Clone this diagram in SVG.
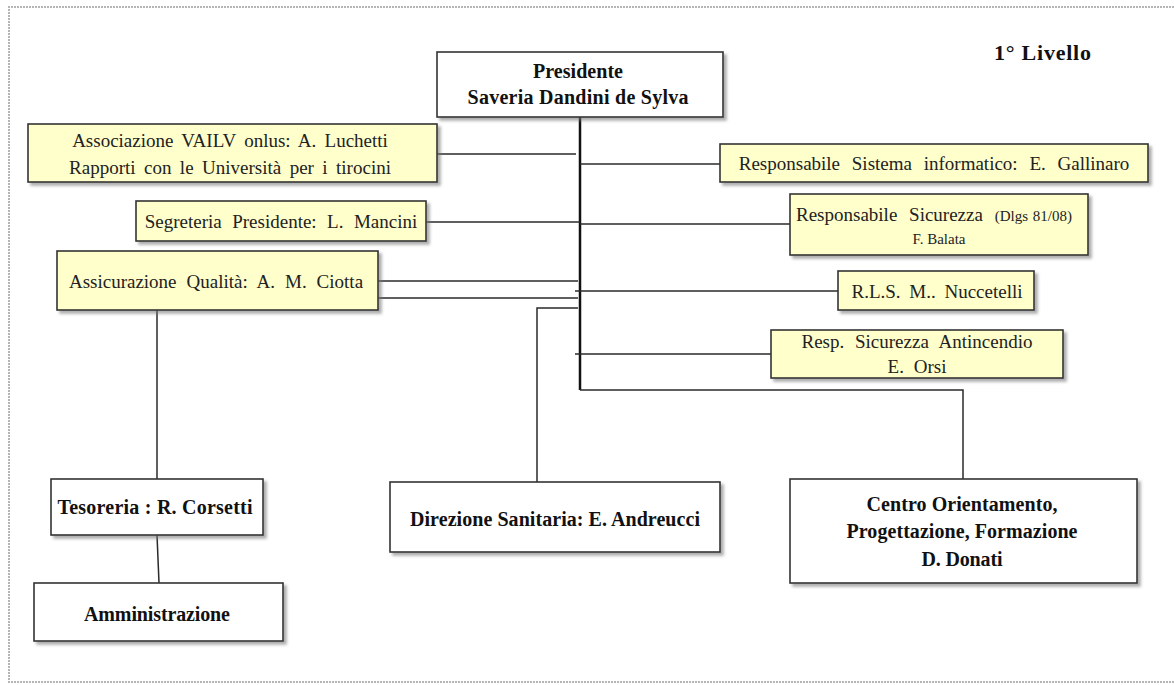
<svg xmlns="http://www.w3.org/2000/svg" width="1174" height="685" viewBox="0 0 1174 685">
<defs>
  <filter id="sh" x="-5%" y="-10%" width="115%" height="130%">
    <feDropShadow dx="3" dy="3" stdDeviation="1.5" flood-color="#777" flood-opacity="0.6"/>
  </filter>
</defs>
<style>
  .box { stroke: #333; stroke-width: 1.6; filter: url(#sh); }
  .y { fill: #FFFFCC; }
  .w { fill: #FFFFFF; }
  .t { font-family: "Liberation Serif", "Times New Roman", serif; font-size: 19px; fill: #222; }
  .b { font-family: "Liberation Serif", "Times New Roman", serif; font-size: 20px; font-weight: bold; fill: #111; }
  .s { font-size: 15px; }
  .c { text-anchor: middle; }
  .ln { stroke: #2a2a2a; stroke-width: 1.5; fill: none; }
  .trunk { stroke: #111; stroke-width: 2.5; fill: none; }
  .border { stroke: #b5b5b5; stroke-width: 2; stroke-dasharray: 2 1; fill: none; }
</style>
<rect width="1174" height="685" fill="#fff"/>
<path class="border" d="M1174,7 H9 V682 H1174"/>

<g id="connectors">
  <line class="trunk" x1="580" y1="117" x2="580" y2="390"/>
  <line class="ln" x1="437" y1="154" x2="576" y2="154"/>
  <line class="ln" x1="426" y1="222" x2="580" y2="222"/>
  <line class="ln" x1="378" y1="281" x2="578" y2="281"/>
  <line class="ln" x1="378" y1="298" x2="578" y2="298"/>
  <polyline class="ln" points="578,308 537,308 537,482"/>
  <line class="ln" x1="580" y1="164" x2="720" y2="164"/>
  <line class="ln" x1="580" y1="224" x2="790" y2="224"/>
  <line class="ln" x1="575" y1="291" x2="838" y2="291"/>
  <line class="ln" x1="575" y1="354" x2="771" y2="354"/>
  <polyline class="ln" points="580,390 963,390 963,479"/>
  <line class="ln" x1="157" y1="310" x2="157" y2="479"/>
  <line class="ln" x1="157" y1="535" x2="159" y2="583"/>
</g>

<g id="livello">
  <text class="b" x="994" y="60" style="font-size:22px" textLength="97" lengthAdjust="spacing">1° Livello</text>
</g>

<g id="presidente">
  <rect class="box w" x="437" y="52" width="286" height="65"/>
  <text class="b c" x="578" y="78" textLength="90" lengthAdjust="spacing">Presidente</text>
  <text class="b c" x="578" y="104" textLength="221" lengthAdjust="spacing">Saveria Dandini de Sylva</text>
</g>

<g id="associazione">
  <rect class="box y" x="28" y="124" width="409" height="58"/>
  <text class="t c" x="230" y="147" word-spacing="3.5">Associazione VAILV onlus: A. Luchetti</text>
  <text class="t c" x="230" y="174" word-spacing="3.7">Rapporti con le Università per i tirocini</text>
</g>

<g id="segreteria">
  <rect class="box y" x="136" y="201" width="290" height="40"/>
  <text class="t c" x="281" y="228" word-spacing="5.7">Segreteria Presidente: L. Mancini</text>
</g>

<g id="assicurazione">
  <rect class="box y" x="57" y="251" width="321" height="59"/>
  <text class="t c" x="216" y="288" word-spacing="5.2">Assicurazione Qualità: A. M. Ciotta</text>
</g>

<g id="sistema">
  <rect class="box y" x="720" y="144" width="428" height="38"/>
  <text class="t c" x="934" y="170" word-spacing="7">Responsabile Sistema informatico: E. Gallinaro</text>
</g>

<g id="sicurezza">
  <rect class="box y" x="790" y="194" width="298" height="61"/>
  <text class="t" x="796" y="221" word-spacing="7">Responsabile Sicurezza <tspan class="s" word-spacing="1">(Dlgs 81/08)</tspan></text>
  <text class="t c s" x="939" y="244">F. Balata</text>
</g>

<g id="rls">
  <rect class="box y" x="838" y="271" width="196" height="39"/>
  <text class="t c" x="937" y="298" word-spacing="4">R.L.S. M.. Nuccetelli</text>
</g>

<g id="antincendio">
  <rect class="box y" x="771" y="330" width="292" height="48"/>
  <text class="t c" x="917" y="348" word-spacing="6">Resp. Sicurezza Antincendio</text>
  <text class="t c" x="917" y="373" word-spacing="5">E. Orsi</text>
</g>

<g id="centro">
  <rect class="box w" x="790" y="479" width="347" height="104"/>
  <text class="b c" x="962" y="511" textLength="191" lengthAdjust="spacing">Centro Orientamento,</text>
  <text class="b c" x="962" y="538" textLength="231" lengthAdjust="spacing">Progettazione, Formazione</text>
  <text class="b c" x="962" y="566" textLength="81" lengthAdjust="spacing">D. Donati</text>
</g>

<g id="direzione">
  <rect class="box w" x="390" y="482" width="330" height="70"/>
  <text class="b c" x="555" y="526" textLength="290" lengthAdjust="spacing">Direzione Sanitaria: E. Andreucci</text>
</g>

<g id="tesoreria">
  <rect class="box w" x="51" y="479" width="212" height="56"/>
  <text class="b c" x="155" y="514" textLength="195" lengthAdjust="spacing">Tesoreria : R. Corsetti</text>
</g>

<g id="amministrazione">
  <rect class="box w" x="34" y="583" width="249" height="58"/>
  <text class="b c" x="157" y="621" textLength="146" lengthAdjust="spacing">Amministrazione</text>
</g>
</svg>
